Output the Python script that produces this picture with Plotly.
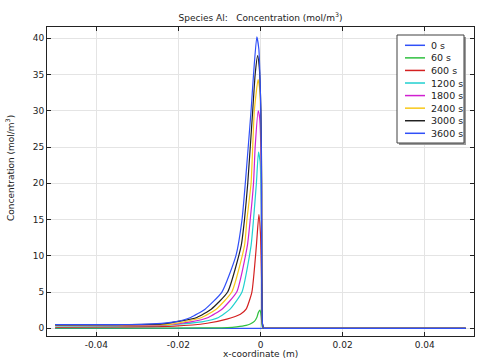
import plotly.graph_objects as go

# ---------------- data ----------------
series_names = ["0 s", "60 s", "600 s", "1200 s", "1800 s", "2400 s", "3000 s", "3600 s"]
series_colors = ["#3050f8", "#30c040", "#d42020", "#20d0d0", "#d020d0", "#f8c818", "#202020", "#3050f8"]

x_0s = [-0.05, 0.05]
y_0s = [0.0, 0.0]

x_60s = [-0.05, -0.03, -0.015, -0.008, -0.0058, -0.0035, -0.0025, -0.0015, -0.0009, -0.0005, -0.0001, 0.0002, 0.0004, 0.0006, 0.001, 0.003, 0.01, 0.03, 0.05]
y_60s = [0.02, 0.03, 0.05, 0.1, 0.2, 0.4, 0.6, 0.95, 1.5, 2.2, 2.5, 1.5, 0.3, 0.0, 0.0, 0.0, 0.0, 0.0, 0.0]

x_600s = [-0.05, -0.035, -0.021, -0.013, -0.0082, -0.0049, -0.0035, -0.0021, -0.001, -0.0004, 0.0, 0.0003, 0.0005, 0.0007, 0.001, 0.003, 0.01, 0.03, 0.05]
y_600s = [0.15, 0.2, 0.3, 0.7, 1.27, 1.95, 2.64, 5.0, 11.4, 15.7, 13.0, 6.0, 0.5, 0.0, 0.0, 0.0, 0.0, 0.0, 0.0]

x_1200s = [-0.05, -0.035, -0.024, -0.0143, -0.0102, -0.0074, -0.0045, -0.0023, -0.0017, -0.001, -0.0005, -0.0001, 0.0002, 0.0005, 0.0008, 0.001, 0.003, 0.01, 0.03, 0.05]
y_1200s = [0.33, 0.35, 0.4, 0.9, 1.5, 2.64, 5.0, 11.4, 15.0, 20.0, 24.3, 23.0, 17.0, 0.5, 0.0, 0.0, 0.0, 0.0, 0.0, 0.0]

x_1800s = [-0.05, -0.035, -0.024, -0.017, -0.0127, -0.0094, -0.0058, -0.0032, -0.0025, -0.0017, -0.0013, -0.00055, -0.0002, 0.0002, 0.0005, 0.0008, 0.001, 0.003, 0.01, 0.03, 0.05]
y_1800s = [0.4, 0.42, 0.45, 0.9, 1.5, 2.64, 5.0, 11.4, 15.0, 20.0, 25.0, 30.0, 29.0, 22.0, 0.5, 0.0, 0.0, 0.0, 0.0, 0.0, 0.0]

x_2400s = [-0.05, -0.035, -0.022, -0.0143, -0.0108, -0.007, -0.0039, -0.0033, -0.0023, -0.0015, -0.0006, -0.0002, 0.0002, 0.0005, 0.0008, 0.001, 0.003, 0.01, 0.03, 0.05]
y_2400s = [0.45, 0.47, 0.55, 1.5, 2.64, 5.0, 11.4, 15.0, 20.0, 30.0, 34.3, 33.0, 25.0, 0.5, 0.0, 0.0, 0.0, 0.0, 0.0, 0.0]

x_3000s = [-0.05, -0.035, -0.024, -0.0155, -0.012, -0.008, -0.0047, -0.0039, -0.0031, -0.0019, -0.0013, -0.0007, -0.0003, 0.0001, 0.0003, 0.0005, 0.0008, 0.001, 0.003, 0.01, 0.03, 0.05]
y_3000s = [0.48, 0.5, 0.6, 1.5, 2.64, 5.0, 11.4, 15.0, 20.0, 30.0, 35.0, 37.6, 36.0, 30.0, 20.0, 0.5, 0.0, 0.0, 0.0, 0.0, 0.0, 0.0]

x_3600s = [-0.05, -0.035, -0.029, -0.021, -0.017, -0.0135, -0.0094, -0.006, -0.0045, -0.0037, -0.0023, -0.0017, -0.0009, -0.0004, 0.0, 0.0002, 0.0005, 0.0008, 0.001, 0.003, 0.01, 0.03, 0.05]
y_3600s = [0.5, 0.52, 0.55, 0.9, 1.5, 2.64, 5.0, 10.0, 15.0, 20.0, 30.0, 35.0, 40.2, 38.5, 32.0, 25.0, 0.5, 0.0, 0.0, 0.0, 0.0, 0.0, 0.0]

x_ticks = [-0.04, -0.02, 0, 0.02, 0.04]
x_tick_labels = ["-0.04", "-0.02", "0", "0.02", "0.04"]
y_ticks = [0, 5, 10, 15, 20, 25, 30, 35, 40]

# ---------------- figure ----------------
xs = [x_0s, x_60s, x_600s, x_1200s, x_1800s, x_2400s, x_3000s, x_3600s]
ys = [y_0s, y_60s, y_600s, y_1200s, y_1800s, y_2400s, y_3000s, y_3600s]

W, H = 482, 363
ml, mr, mt, mb = 47, 8, 27, 27
pw, ph = W - ml - mr, H - mt - mb

fig = go.Figure()
for name, col, x, y in zip(series_names, series_colors, xs, ys):
    fig.add_trace(go.Scatter(x=x, y=y, mode="lines", name=name,
                             line=dict(color=col, width=1.2, shape="spline", smoothing=0.5),
                             showlegend=False))

font = "DejaVu Sans"

def px2paper(px, py):
    return (px - ml) / pw, (H - mb - py) / ph

shapes = []
annotations = []

# manual legend box (with shadow)
bx0, by0, bx1, by1 = 397, 35, 464, 143
sx0, sy0 = px2paper(bx0 + 2, by0 + 2)
sx1, sy1 = px2paper(bx1 + 2, by1 + 2)
shapes.append(dict(type="rect", xref="paper", yref="paper", x0=sx0, y0=sy0, x1=sx1, y1=sy1,
                   line=dict(width=0), fillcolor="#9a9a9a", layer="above"))
lx0, ly0 = px2paper(bx0, by0)
lx1, ly1 = px2paper(bx1, by1)
shapes.append(dict(type="rect", xref="paper", yref="paper", x0=lx0, y0=ly0, x1=lx1, y1=ly1,
                   line=dict(width=1, color="#404040"), fillcolor="white", layer="above"))
first_y, step = 45.3, 12.57
for i, (name, col) in enumerate(zip(series_names, series_colors)):
    py = first_y + i * step
    a0, b0 = px2paper(405, py)
    a1, _ = px2paper(425, py)
    shapes.append(dict(type="line", xref="paper", yref="paper", x0=a0, y0=b0, x1=a1, y1=b0,
                       line=dict(color=col, width=1.5), layer="above"))
    tx, _ = px2paper(429, py)
    annotations.append(dict(x=tx, y=b0, xref="paper", yref="paper", text=name, showarrow=False,
                            xanchor="left", yanchor="middle", font=dict(family=font, size=9.5, color="#222")))

# axis titles
annotations.append(dict(x=0.5, y=px2paper(0, 354)[1], xref="paper", yref="paper", text="x-coordinate (m)",
                        showarrow=False, xanchor="center", yanchor="middle",
                        font=dict(family=font, size=9, color="#222")))
annotations.append(dict(x=(10 - ml) / pw, y=px2paper(0, 168)[1], xref="paper", yref="paper",
                        text="Concentration (mol/m<sup>3</sup>)", textangle=-90,
                        showarrow=False, xanchor="center", yanchor="middle",
                        font=dict(family=font, size=9, color="#222")))

axis_common = dict(showline=True, linecolor="#222", linewidth=1, mirror="ticks",
                   ticks="inside", ticklen=4, tickcolor="#222", automargin=False,
                   showgrid=True, gridcolor="#e4e4e4", gridwidth=1, zeroline=False,
                   tickfont=dict(family=font, size=9, color="#222"))

fig.update_layout(
    width=W, height=H,
    margin=dict(l=ml, r=mr, t=mt, b=mb, pad=0),
    paper_bgcolor="white", plot_bgcolor="white",
    title=dict(text="Species Al:   Concentration (mol/m<sup>3</sup>)", x=0.5, xref="paper",
               y=1 - 18 / H, yref="container", xanchor="center", yanchor="middle",
               font=dict(family=font, size=9, color="#222")),
    xaxis=dict(range=[-0.052, 0.052], tickvals=x_ticks, ticktext=x_tick_labels, **axis_common),
    yaxis=dict(range=[-1.06, 41.56], tickvals=y_ticks, **axis_common),
    shapes=shapes, annotations=annotations,
    showlegend=False,
)

fig.write_html("out.html", config={"displayModeBar": False},
               post_script="document.body.style.margin='0';document.body.style.overflow='hidden';")
